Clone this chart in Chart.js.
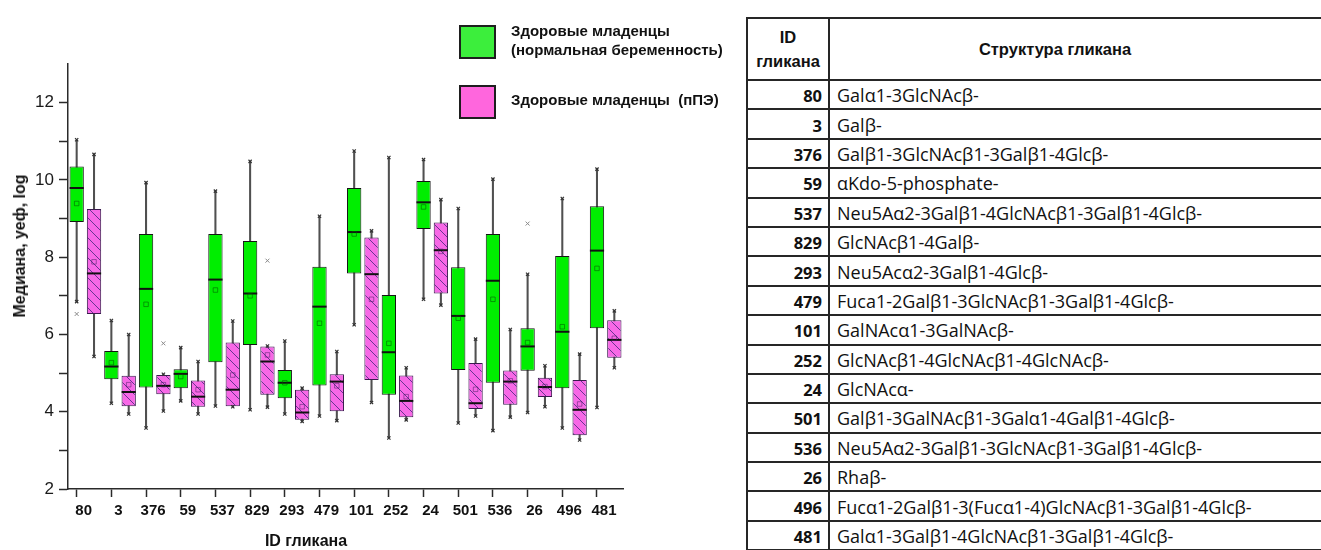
<!DOCTYPE html>
<html lang="ru">
<head>
<meta charset="utf-8">
<title>Гликаны: здоровые младенцы</title>
<script src="https://cdn.jsdelivr.net/npm/chart.js@4.4.1/dist/chart.umd.min.js"></script>
<style>
  html, body { margin: 0; padding: 0; background: #fff; }
  body { width: 1321px; height: 550px; position: relative; overflow: hidden; font-family: "Liberation Sans", Arial, sans-serif; }
  #plot { position: absolute; left: 0; top: 0; }
  .axis-title { position: absolute; font-weight: bold; font-size: 16px; color: #111; white-space: nowrap; }
  #ytitle { left: 20px; top: 246px; transform: translate(-50%, -50%) rotate(-90deg); font-size: 16px; }
  #xtitle { left: 306px; top: 541px; transform: translate(-50%, -50%); }
  .sw { position: absolute; width: 33px; height: 30px; border: 2px solid #1e1e1e; }
  .lg-text { position: absolute; font-weight: bold; font-size: 15px; line-height: 18.5px; color: #111; white-space: nowrap; }
  #wrap { position: absolute; left: 746px; top: 17px; width: 720px; }
  #tbl { border-collapse: collapse; width: 720px; table-layout: fixed; }
  #tbl th, #tbl td { border: 2px solid #262626; padding: 0; }
  #tbl th.c2, #tbl td.c2 { border-right: none; }
  #tbl th { font-family: "Liberation Sans", Arial, sans-serif; font-weight: bold; font-size: 16.5px; color: #111; height: 60px; line-height: 24px; text-align: center; }
  #tbl th.c2 { padding-right: 186px; }
  #tbl td { height: 25.4px; padding-top: 2px; font-family: "Open Sans", sans-serif; font-size: 18px; color: #111; line-height: 25px; white-space: nowrap; }
  #tbl td.c1 { font-weight: bold; font-size: 16.5px; text-align: right; padding-right: 6px; }
  #tbl td.c2 { padding-left: 7px; }
</style>
</head>
<body>
<canvas id="plot" width="740" height="550"></canvas>
<div id="ytitle" class="axis-title">Медиана, уеф, log</div>
<div id="xtitle" class="axis-title">ID гликана</div>

<div class="sw" style="left:459px;top:25px;background:#3cee3c"></div>
<div class="lg-text" style="left:511px;top:22px">Здоровые младенцы<br>(нормальная беременность)</div>
<div class="sw" style="left:459px;top:85px;background:#ff66dd"></div>
<div class="lg-text" style="left:511px;top:91px">Здоровые младенцы&nbsp; (пПЭ)</div>

<div id="wrap">
<table id="tbl">
  <colgroup><col style="width:82px"><col></colgroup>
  <thead><tr><th class="c1">ID<br>гликана</th><th class="c2">Структура гликана</th></tr></thead>
  <tbody id="rows"></tbody>
</table>
</div>

<script>
// Glycan IDs along the x axis
const glycanIds = ['80', '3', '376', '59', '537', '829', '293', '479', '101', '252', '24', '501', '536', '26', '496', '481'];

// Glycan structures for the side table
const glycanStructures = [
  'Galα1-3GlcNAcβ-',
  'Galβ-',
  'Galβ1-3GlcNAcβ1-3Galβ1-4Glcβ-',
  'αKdo-5-phosphate-',
  'Neu5Aα2-3Galβ1-4GlcNAcβ1-3Galβ1-4Glcβ-',
  'GlcNAcβ1-4Galβ-',
  'Neu5Acα2-3Galβ1-4Glcβ-',
  'Fuca1-2Galβ1-3GlcNAcβ1-3Galβ1-4Glcβ-',
  'GalNAcα1-3GalNAcβ-',
  'GlcNAcβ1-4GlcNAcβ1-4GlcNAcβ-',
  'GlcNAcα-',
  'Galβ1-3GalNAcβ1-3Galα1-4Galβ1-4Glcβ-',
  'Neu5Aα2-3Galβ1-3GlcNAcβ1-3Galβ1-4Glcβ-',
  'Rhaβ-',
  'Fucα1-2Galβ1-3(Fucα1-4)GlcNAcβ1-3Galβ1-4Glcβ-',
  'Galα1-3Galβ1-4GlcNAcβ1-3Galβ1-4Glcβ-'
];

// Healthy infants, normal pregnancy (log median signal)
const normMin    = [6.85, 4.22, 3.58, 4.28, 4.15, 4.05, 3.94, 3.89, 6.25, 3.32, 6.91, 3.71, 3.51, 3.98, 3.58, 4.11];
const normQ1     = [8.91, 4.84, 4.63, 4.61, 5.28, 5.73, 4.35, 4.68, 7.58, 4.44, 8.73, 5.08, 4.75, 5.06, 4.61, 6.16];
const normMedian = [9.79, 5.17, 7.18, 4.98, 7.42, 7.06, 4.75, 6.72, 8.65, 5.54, 9.42, 6.48, 7.39, 5.69, 6.07, 8.17];
const normQ3     = [10.35, 5.57, 8.60, 5.10, 8.60, 8.42, 5.08, 7.75, 9.79, 7.02, 9.97, 7.74, 8.60, 6.16, 8.03, 9.32];
const normMax    = [11.04, 6.36, 9.93, 5.66, 9.71, 10.48, 5.83, 9.06, 10.75, 10.58, 10.53, 9.26, 10.02, 7.56, 9.52, 10.28];
const normMean   = [9.39, 5.27, 6.78, 4.91, 7.15, 7.00, 4.75, 6.29, 8.60, 5.77, 9.30, 6.42, 6.91, 5.79, 6.20, 7.71];
const normOutliers = [6.53, null, null, null, null, null, null, null, null, null, null, null, null, 8.87, null, null];

// Healthy infants, пПЭ group
const ppeMin    = [5.43, 3.94, 4.02, 3.94, 4.13, 4.12, 3.75, 3.77, 4.24, 3.79, 6.76, 3.89, 3.86, 4.13, 3.27, 5.14];
const ppeQ1     = [6.53, 4.14, 4.45, 4.13, 4.14, 4.44, 3.79, 4.01, 4.82, 3.86, 7.06, 4.07, 4.18, 4.38, 3.39, 5.40];
const ppeMedian = [7.58, 4.51, 4.67, 4.39, 4.57, 5.30, 3.98, 4.78, 7.56, 4.28, 8.18, 4.22, 4.78, 4.64, 4.05, 5.86];
const ppeQ3     = [9.25, 4.93, 4.95, 4.81, 5.79, 5.69, 4.57, 4.97, 8.51, 4.94, 8.90, 5.26, 5.07, 4.88, 4.82, 6.37];
const ppeMax    = [10.66, 6.00, 4.97, 5.30, 6.35, 5.70, 4.61, 5.56, 8.68, 5.14, 9.49, 5.88, 6.13, 5.19, 5.49, 6.61];
const ppeMean   = [7.88, 4.70, 4.70, 4.57, 4.95, 5.47, 4.13, 4.67, 6.91, 4.39, 8.15, 4.58, 4.80, 4.65, 4.20, 5.90];
const ppeOutliers = [null, null, 5.77, null, null, 7.91, null, null, null, null, null, null, null, null, null, null];

// Y axis range and labelled ticks
const yMin = 2, yMax = 13;
const yTickLabels = [2, 4, 6, 8, 10, 12];

// Side table rows
const tbody = document.getElementById('rows');
glycanIds.forEach((id, i) => {
  const tr = document.createElement('tr');
  const a = document.createElement('td'); a.className = 'c1'; a.textContent = id;
  const b = document.createElement('td'); b.className = 'c2'; b.textContent = glycanStructures[i];
  tr.appendChild(a); tr.appendChild(b); tbody.appendChild(tr);
});

// Two slots per glycan: even = normal pregnancy, odd = пПЭ
const slotLabels = [];
glycanIds.forEach(id => { slotLabels.push(id); slotLabels.push(id); });
function toSlots(values, side) {
  const out = new Array(glycanIds.length * 2).fill(null);
  values.forEach((v, i) => { out[i * 2 + side] = v; });
  return out;
}
function rangeSlots(lo, hi, side) {
  return toSlots(lo.map((v, i) => [v, hi[i]]), side);
}
function mergeSlots(a, b) { return a.map((v, i) => v !== null ? v : b[i]); }

// Diagonal hatch fill for the пПЭ boxes
function hatch(bg, line) {
  const s = 10;
  const c = document.createElement('canvas'); c.width = s; c.height = s;
  const g = c.getContext('2d');
  g.fillStyle = bg; g.fillRect(0, 0, s, s);
  g.strokeStyle = line; g.lineWidth = 1;
  g.beginPath();
  g.moveTo(-1, -1); g.lineTo(s + 1, s + 1);
  g.moveTo(-2, s - 2); g.lineTo(2, s + 2);
  g.moveTo(s - 2, -2); g.lineTo(s + 2, 2);
  g.stroke();
  return g.createPattern(c, 'repeat');
}

const ctx = document.getElementById('plot').getContext('2d');
const GREEN = '#00ee00';
const MAGENTA = '#f768e6';
const hatchFill = hatch(MAGENTA, 'rgba(80,45,130,0.85)');

const whiskers = mergeSlots(rangeSlots(normMin, normMax, 0), rangeSlots(ppeMin, ppeMax, 1));

new Chart(ctx, {
  type: 'bar',
  data: {
    labels: slotLabels,
    datasets: [
      { label: 'whiskers', data: whiskers, backgroundColor: '#505050', borderWidth: 0,
        barThickness: 1.4, grouped: false, order: 10 },
      { label: 'Здоровые младенцы (нормальная беременность)', data: rangeSlots(normQ1, normQ3, 0),
        backgroundColor: GREEN, borderColor: '#141414', borderWidth: 1, borderSkipped: false,
        grouped: false, categoryPercentage: 1, barPercentage: 0.825, order: 6 },
      { label: 'Здоровые младенцы (пПЭ)', data: rangeSlots(ppeQ1, ppeQ3, 1),
        backgroundColor: hatchFill, borderColor: '#3a1a4e', borderWidth: 1, borderSkipped: false,
        grouped: false, categoryPercentage: 1, barPercentage: 0.825, order: 6 },
      { type: 'line', label: 'median', data: mergeSlots(toSlots(normMedian, 0), toSlots(ppeMedian, 1)),
        showLine: false, pointStyle: 'line', pointRadius: 7.1, pointBorderWidth: 2,
        pointBorderColor: '#111', order: 2 },
      { type: 'line', label: 'mean', data: mergeSlots(toSlots(normMean, 0), toSlots(ppeMean, 1)),
        showLine: false, pointStyle: 'rect', pointRadius: 3.2, pointBorderWidth: 1,
        pointBackgroundColor: 'rgba(0,0,0,0)',
        pointBorderColor: c => (c.dataIndex % 2 ? 'rgba(70,30,100,0.5)' : 'rgba(0,90,0,0.55)'), order: 1 },
      { type: 'line', label: 'max', data: mergeSlots(toSlots(normMax, 0), toSlots(ppeMax, 1)),
        showLine: false, pointStyle: 'crossRot', pointRadius: 2.3, pointBorderWidth: 1.2,
        pointBorderColor: '#333', order: 3 },
      { type: 'line', label: 'min', data: mergeSlots(toSlots(normMin, 0), toSlots(ppeMin, 1)),
        showLine: false, pointStyle: 'crossRot', pointRadius: 2.3, pointBorderWidth: 1.2,
        pointBorderColor: '#333', order: 3 },
      { type: 'line', label: 'outliers', data: mergeSlots(toSlots(normOutliers, 0), toSlots(ppeOutliers, 1)),
        showLine: false, pointStyle: 'crossRot', pointRadius: 2.8, pointBorderWidth: 1,
        pointBorderColor: '#8a8a8a', order: 3 }
    ]
  },
  options: {
    responsive: false,
    animation: false,
    devicePixelRatio: 1,
    layout: { padding: { top: 64, right: 117, left: 0, bottom: 0 } },
    plugins: { legend: { display: false }, tooltip: { enabled: false } },
    scales: {
      x: {
        type: 'category',
        offset: true,
        afterFit: s => { s.height = 61; },
        grid: {
          offset: false, drawOnChartArea: false, drawTicks: true, tickLength: 8, tickWidth: 1.5,
          tickColor: c => (c.index % 2 ? 'rgba(0,0,0,0)' : '#2a2a2a')
        },
        border: { display: true, color: '#2a2a2a', width: 1.5 },
        ticks: {
          autoSkip: false, maxRotation: 0, minRotation: 0, padding: 5, labelOffset: 7,
          color: '#111', font: { family: '"Liberation Sans", Arial, sans-serif', size: 15, weight: 'bold' },
          callback: (v, i) => (i % 2 ? '' : glycanIds[i / 2])
        }
      },
      y: {
        type: 'linear',
        min: yMin, max: yMax,
        afterFit: s => { s.width = 68; },
        grid: {
          drawOnChartArea: false, drawTicks: true, tickLength: 9, tickWidth: 1.5,
          tickColor: c => (c.tick && c.tick.value === yMax ? 'rgba(0,0,0,0)' : '#2a2a2a')
        },
        border: { display: true, color: '#2a2a2a', width: 1.5 },
        ticks: {
          stepSize: 1, padding: 5, color: '#1a1a1a',
          font: { family: '"Liberation Sans", Arial, sans-serif', size: 17 },
          callback: v => (yTickLabels.includes(v) ? String(v) : '')
        }
      }
    }
  }
});
</script>
</body>
</html>
